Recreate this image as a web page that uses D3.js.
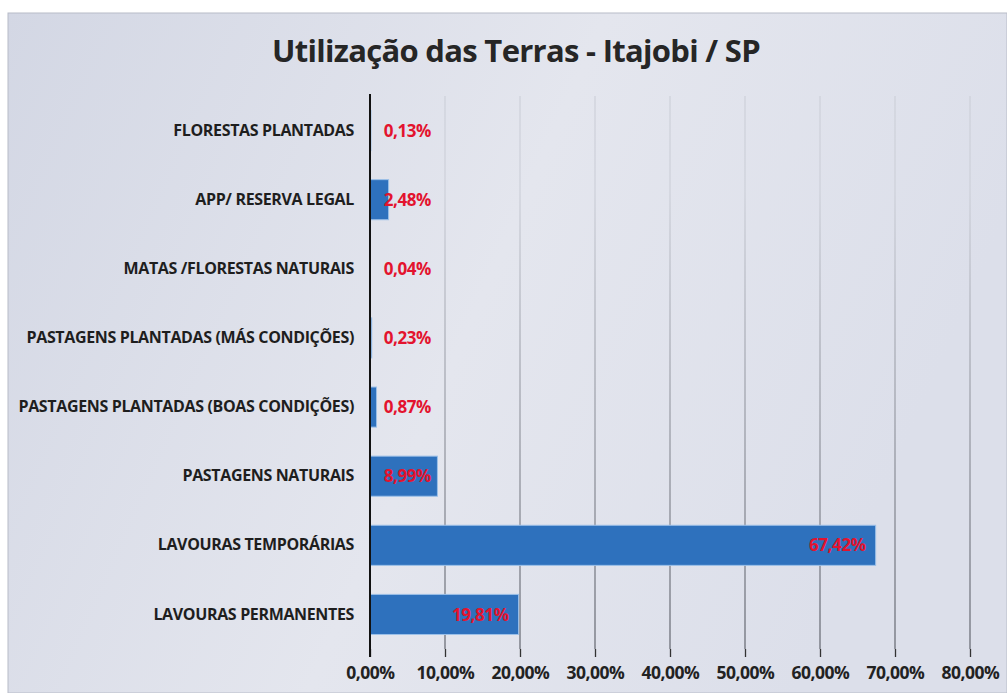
<!DOCTYPE html>
<html>
<head>
<meta charset="utf-8">
<script src="https://cdn.jsdelivr.net/npm/d3@7"></script>
<style>
  body { margin: 0; background: #ffffff; }
  svg { display: block; font-family: "Open Sans", "Noto Sans", sans-serif; }
</style>
</head>
<body>
<svg id="chart" width="1007" height="693"></svg>
<script>
// categories from top to bottom as in the picture
const categories = [
    "FLORESTAS PLANTADAS",
    "APP/ RESERVA LEGAL",
    "MATAS /FLORESTAS NATURAIS",
    "PASTAGENS PLANTADAS (MÁS CONDIÇÕES)",
    "PASTAGENS PLANTADAS (BOAS CONDIÇÕES)",
    "PASTAGENS NATURAIS",
    "LAVOURAS TEMPORÁRIAS",
    "LAVOURAS PERMANENTES"
];
const values = [0.13, 2.48, 0.04, 0.23, 0.87, 8.99, 67.42, 19.81];
const tickValues = [0, 10, 20, 30, 40, 50, 60, 70, 80];
const title = "Utilização das Terras - Itajobi / SP";

const fmt = v => v.toFixed(2).replace(".", ",") + "%";

const svg = d3.select("#chart");

// background panel with a soft gradient
let defs = svg.append("defs");
let bg = defs.append("linearGradient").attr("id", "bg").attr("x1", 0).attr("x2", 1).attr("y1", 0).attr("y2", 0.3);
bg.append("stop").attr("offset", "0%").attr("stop-color", "#d3d7e4");
bg.append("stop").attr("offset", "55%").attr("stop-color", "#e4e6ee");
bg.append("stop").attr("offset", "100%").attr("stop-color", "#dcdfea");

let gridGrad = defs.append("linearGradient").attr("id", "gridGrad")
    .attr("gradientUnits", "userSpaceOnUse").attr("x1", 0).attr("x2", 0).attr("y1", 95).attr("y2", 650);
gridGrad.append("stop").attr("offset", "0%").attr("stop-color", "#cdd0d9");
gridGrad.append("stop").attr("offset", "100%").attr("stop-color", "#4a4d56");

svg.append("rect")
    .attr("x", 8).attr("y", 13).attr("width", 999).attr("height", 680)
    .attr("fill", "url(#bg)")
    .attr("stroke", "#b8bcc8").attr("stroke-width", 1);

const margin = {top: 96, right: 37, bottom: 44, left: 370};
const width = 1007 - margin.left - margin.right;
const height = 693 - margin.top - margin.bottom;

const x = d3.scaleLinear().domain([0, 80]).range([0, width]);
const y = d3.scaleBand().domain(categories).range([0, height]).paddingInner(0.42).paddingOuter(0.21);

const g = svg.append("g").attr("transform", `translate(${margin.left},${margin.top})`);

// title
svg.append("text")
    .attr("x", 516).attr("y", 62)
    .attr("text-anchor", "middle")
    .attr("font-size", 31).attr("font-weight", "bold")
    .attr("letter-spacing", -0.7)
    .attr("fill", "#262626")
    .text(title);

// vertical gridlines
g.selectAll("line.grid")
    .data(tickValues.slice(1))
    .join("line")
    .attr("class", "grid")
    .attr("x1", d => x(d)).attr("x2", d => x(d))
    .attr("y1", 0).attr("y2", height)
    .attr("stroke", "url(#gridGrad)").attr("stroke-width", 1.2);

// bars
g.selectAll("rect.bar")
    .data(values)
    .join("rect")
    .attr("class", "bar")
    .attr("x", 0)
    .attr("y", (d, i) => y(categories[i]))
    .attr("width", d => x(d))
    .attr("height", y.bandwidth())
    .attr("fill", "#2e71bd")
    .attr("stroke", "#9cc0e8").attr("stroke-width", 1);

// value labels: inside end, kept clear of the axis
g.selectAll("text.val")
    .data(values)
    .join("text")
    .attr("class", "val")
    .attr("x", d => Math.max(x(d) - 10, 61))
    .attr("y", (d, i) => y(categories[i]) + y.bandwidth() / 2)
    .attr("dy", "0.36em")
    .attr("text-anchor", "end")
    .attr("font-size", 17).attr("font-weight", "bold")
    .attr("letter-spacing", -0.4)
    .attr("fill", "#e3132e")
    .text(d => fmt(d));

// x axis ticks and labels
const xAxis = d3.axisBottom(x).tickValues(tickValues).tickSize(8).tickFormat(d => fmt(d));
const ax = g.append("g").attr("transform", `translate(0,${height})`).call(xAxis);
ax.select(".domain").remove();
ax.selectAll(".tick line").attr("stroke", "#333").attr("stroke-width", 1.3);
ax.selectAll(".tick text")
    .attr("y", 18)
    .attr("font-size", 17.5).attr("font-weight", "bold")
    .attr("letter-spacing", -0.5)
    .attr("font-family", "\"Open Sans\", sans-serif")
    .attr("fill", "#222");

// y axis line and category labels
const yAxis = d3.axisLeft(y).tickSize(0).tickPadding(16);
const ay = g.append("g").call(yAxis);
ay.select(".domain").remove();
ay.selectAll(".tick text")
    .attr("font-size", 16).attr("font-weight", "bold")
    .attr("letter-spacing", -0.35)
    .attr("font-family", "\"Open Sans\", sans-serif")
    .attr("fill", "#1e1e1e");

g.append("line")
    .attr("x1", 0).attr("x2", 0)
    .attr("y1", -2).attr("y2", height + 8)
    .attr("stroke", "#111").attr("stroke-width", 2);
</script>
</body>
</html>
